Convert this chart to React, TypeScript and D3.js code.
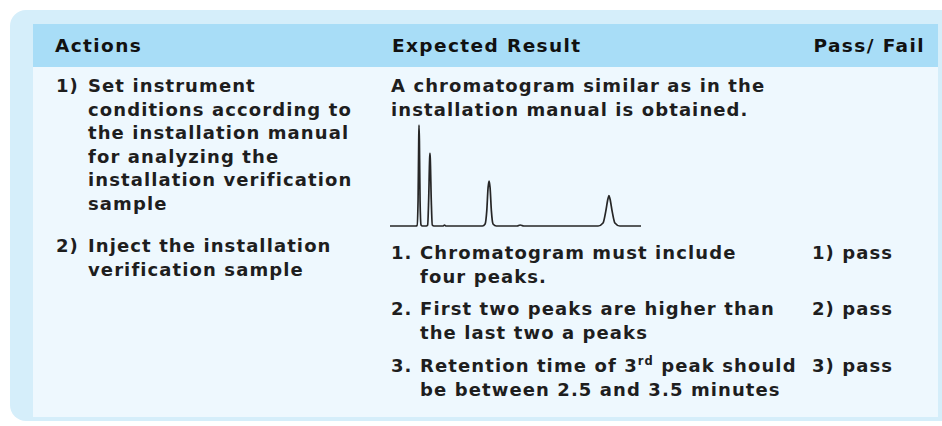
import React from 'react';
import * as d3 from 'd3';

// table text
const headers = ['Actions', 'Expected Result', 'Pass/ Fail'];
const action1 = ['Set instrument', 'conditions according to', 'the installation manual', 'for analyzing the', 'installation verification', 'sample'];
const action2 = ['Inject the installation', 'verification sample'];
const expectedIntro = ['A chromatogram similar as in the', 'installation manual is obtained.'];
const criteria1 = ['Chromatogram must include', 'four peaks.'];
const criteria2 = ['First two peaks are higher than', 'the last two a peaks'];
const criteria3b = 'be between 2.5 and 3.5 minutes';
const results = ['1) pass', '2) pass', '3) pass'];

// chromatogram trace (minutes, relative signal)
const traceTime = [0, 0.78, 0.82, 0.85, 0.87, 0.878, 0.89, 0.91, 0.94, 0.98, 1.1, 1.14, 1.17, 1.2, 1.21, 1.22, 1.25, 1.28, 1.33, 1.6, 1.65, 1.7, 2.8, 2.88, 2.93, 2.97, 3.0, 3.03, 3.07, 3.12, 3.22, 3.85, 3.94, 4.05, 6.3, 6.45, 6.53, 6.6, 6.63, 6.66, 6.73, 6.81, 6.96, 7.6];
const traceSignal = [0, 0, 0.5, 25, 85, 100, 85, 25, 1, 0, 0, 1, 25, 66, 72, 66, 25, 1, 0, 0, 0.8, 0, 0, 2, 15, 38, 44.5, 38, 15, 2, 0, 0, 1, 0, 0, 3, 14, 27, 30, 27, 14, 3, 0, 0];

const W = 942;
const H = 426;
const font = '"DejaVu Sans", sans-serif';
const ink = '#1e1e1e';

const App = () => {
  const x = d3.scaleLinear().domain([0, 7.6]).range([390, 641]);
  const y = d3.scaleLinear().domain([0, 100]).range([226, 125]);
  const line = d3.line<number>()
    .x(i => x(traceTime[i]))
    .y(i => y(traceSignal[i]))
    .curve(d3.curveMonotoneX);
  const trace = line(d3.range(traceTime.length)) || '';

  const lh = 23.5;
  const body = { fontFamily: font, fontSize: 18, fontWeight: 700, letterSpacing: 1.1, fill: ink };
  const head = { fontFamily: font, fontSize: 18.5, fontWeight: 700, letterSpacing: 1.4, fill: '#111' };

  const lines = (arr: string[], xx: number, y0: number) =>
    arr.map((t, i) => (
      <text key={t} x={xx} y={y0 + i * lh} style={body}>{t}</text>
    ));

  return (
    <div style={{ position: 'absolute', left: 0, top: 0 }}>
      <svg width={W} height={H}>
        <rect x={0} y={0} width={W} height={H} fill="#fff" />
        <rect x={10} y={10} width={960} height={411} rx={16} fill="#d5eefa" />
        <rect x={33} y={24} width={905} height={43} fill="#a8ddf7" />
        <rect x={33} y={67} width={905} height={350} fill="#eef8fe" />

        <text x={55} y={52} style={head}>{headers[0]}</text>
        <text x={392} y={52} style={head}>{headers[1]}</text>
        <text x={925} y={52} style={head} textAnchor="end">{headers[2]}</text>

        <text x={56} y={92} style={body}>1)</text>
        {lines(action1, 88, 92)}
        <text x={56} y={252} style={body}>2)</text>
        {lines(action2, 88, 252)}

        {lines(expectedIntro, 391, 92)}

        <path d={trace} fill="none" stroke="#262626" strokeWidth={1.7} strokeLinejoin="round" />

        <text x={391} y={259} style={body}>1.</text>
        {lines(criteria1, 420, 259)}
        <text x={391} y={315} style={body}>2.</text>
        {lines(criteria2, 420, 315)}
        <text x={391} y={372} style={body}>3.</text>
        <text x={420} y={372} style={body}>
          Retention time of 3<tspan dy={-7} style={{ fontSize: 11.5 }}>rd</tspan>
          <tspan dy={7}> peak should</tspan>
        </text>
        <text x={420} y={372 + lh} style={body}>{criteria3b}</text>

        {results.map((r, i) => (
          <text key={r} x={812} y={[259, 315, 372][i]} style={body}>{r}</text>
        ))}
      </svg>
    </div>
  );
};

export default App;
